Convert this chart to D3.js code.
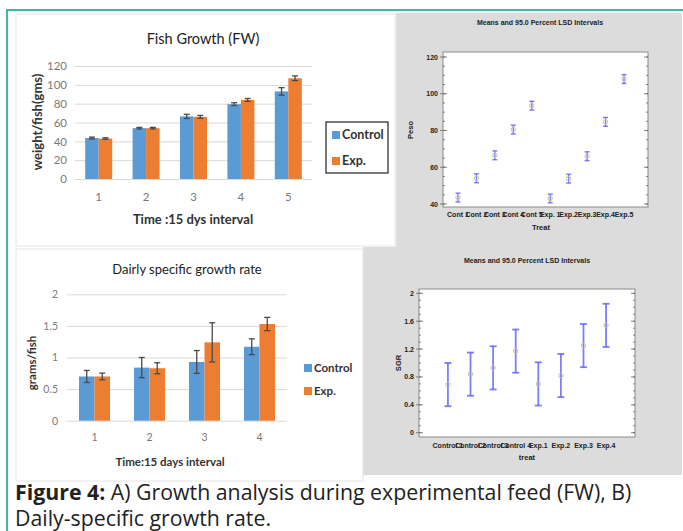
<!DOCTYPE html>
<html>
<head>
<meta charset="utf-8">
<title>Figure 4 - Fish growth</title>
<style>
    body{ margin:0; background:#fff; }
    svg{ display:block; }
    .xl text{ font-family: Lato, sans-serif; }
    .sg text{ font-family: "Liberation Sans", Arial, sans-serif; font-weight:bold; fill:#222; }
    .domain{ display:none; }
</style>
<script src="https://cdn.jsdelivr.net/npm/d3@7"></script>
</head>
<body>
<svg id="fig" width="683" height="531"></svg>
<script type="text/javascript">
// ---- data ----
const fwIntervals = ["1","2","3","4","5"];
const fwControl = [43.5, 54, 66.5, 79.5, 93];
const fwControlErr = [1, 0.8, 2.2, 1.5, 4];
const fwExp = [43, 54, 66, 84, 107];
const fwExpErr = [0.8, 0.8, 1.5, 1.5, 2.5];
const fwTicks = [0, 20, 40, 60, 80, 100, 120];

const sgrIntervals = ["1","2","3","4"];
const sgrControl = [0.7, 0.84, 0.93, 1.17];
const sgrControlErr = [0.095, 0.16, 0.18, 0.125];
const sgrExp = [0.7, 0.83, 1.24, 1.53];
const sgrExpErr = [0.053, 0.087, 0.31, 0.105];
const sgrTicks = [0, 0.5, 1, 1.5, 2];

const pesoTreat = ["Cont 1","Cont 2","Cont 3","Cont 4","Cont 5","Exp. 1","Exp.2","Exp.3","Exp.4","Exp.5"];
const pesoMeans = [43.5, 54, 66.5, 80.5, 93.5, 43, 53.8, 66, 84.7, 108];
const pesoLsd = [2.4, 2.4, 2.4, 2.4, 2.4, 2.4, 2.4, 2.4, 2.4, 2.4];
const pesoTicks = [40, 60, 80, 100, 120];

const sgrTreat = ["Control 1","Control 2","Control 3","Control 4","Exp.1","Exp.2","Exp.3","Exp.4"];
const sgrMeans = [0.69, 0.84, 0.93, 1.17, 0.70, 0.82, 1.25, 1.54];
const sgrLsd = [0.31, 0.31, 0.31, 0.31, 0.31, 0.31, 0.31, 0.31];
const sgrLsdTicks = [0, 0.4, 0.8, 1.2, 1.6, 2];

const seriesNames = ["Control", "Exp."];
const seriesColors = ["#5b9bd5", "#ed7d31"];

const svg = d3.select("#fig");

// panels / frame
svg.append("rect").attr("x",396).attr("y",13).attr("width",286).attr("height",234).attr("fill","#dcdcdc");
svg.append("rect").attr("x",363).attr("y",247).attr("width",319).attr("height",228).attr("fill","#dcdcdc");
svg.append("rect").attr("x",16).attr("y",14).attr("width",379).attr("height",232)
    .attr("fill","#fff").attr("stroke","#e4e4e4");
svg.append("rect").attr("x",16).attr("y",249).attr("width",347).attr("height",232)
    .attr("fill","#fff").attr("stroke","#e4e4e4");
svg.append("path").attr("d","M7,531V10H683").attr("fill","none")
    .attr("stroke","#3dbaa6").attr("stroke-width",2);

// ******************************
// Excel style grouped bar chart with error bars
function barChart(o){
    const g = svg.append("g").attr("class","xl");
    const x = d3.scaleBand().domain(o.cats).range(o.xr).paddingInner(o.pad).paddingOuter(o.pad/2);
    const x1 = d3.scaleBand().domain(seriesNames).range([0, x.bandwidth()]);
    const y = d3.scaleLinear().domain(o.yd).range(o.yr);

    const ax = g.append("g").attr("transform",`translate(${o.xr[0]},0)`)
        .call(d3.axisLeft(y).tickValues(o.ticks).tickFormat(d=>d)
            .tickSize(-(o.xr[1]-o.xr[0])).tickPadding(o.tickPad));
    ax.selectAll("line").attr("stroke","#d9d9d9");
    ax.selectAll("text").attr("font-size",o.tickFs).attr("fill","#7a7a7a").attr("font-family","Lato");

    const rows = o.cats.map((c,i)=>({c, v:[o.ctrl[i],o.exp[i]], e:[o.ctrlErr[i],o.expErr[i]]}));
    const grp = g.selectAll(".grp").data(rows).enter().append("g")
        .attr("transform",d=>`translate(${x(d.c)},0)`);
    seriesNames.forEach((s,k)=>{
        grp.append("rect")
            .attr("x",x1(s)).attr("width",x1.bandwidth())
            .attr("y",d=>y(d.v[k])).attr("height",d=>y(0)-y(d.v[k]))
            .attr("fill",seriesColors[k]);
        const cx = x1(s)+x1.bandwidth()/2;
        const eb = grp.append("g").attr("stroke","#4a4a4a").attr("stroke-width",1.3);
        eb.append("line").attr("x1",cx).attr("x2",cx)
            .attr("y1",d=>y(d.v[k]+d.e[k])).attr("y2",d=>y(d.v[k]-d.e[k]));
        eb.append("line").attr("x1",cx-3).attr("x2",cx+3)
            .attr("y1",d=>y(d.v[k]+d.e[k])).attr("y2",d=>y(d.v[k]+d.e[k]));
        eb.append("line").attr("x1",cx-3).attr("x2",cx+3)
            .attr("y1",d=>y(d.v[k]-d.e[k])).attr("y2",d=>y(d.v[k]-d.e[k]));
    });

    g.selectAll(".cat").data(o.cats).enter().append("text")
        .attr("x",d=>x(d)+x.bandwidth()/2).attr("y",o.catY)
        .attr("text-anchor","middle").attr("font-size",o.tickFs).attr("fill","#7a7a7a").text(d=>d);

    g.append("text").attr("x",o.title[0]).attr("y",o.title[1]).attr("text-anchor","middle")
        .attr("font-size",o.titleFs).attr("fill","#222").text(o.title[2]);
    g.append("text").attr("x",o.xt[0]).attr("y",o.xt[1]).attr("text-anchor","middle")
        .attr("font-size",o.axFs).attr("font-weight","bold").attr("fill","#333").text(o.xt[2]);
    g.append("text").attr("transform",`translate(${o.yt[0]},${o.yt[1]}) rotate(-90)`)
        .attr("text-anchor","middle").attr("font-size",o.axFs).attr("font-weight","bold")
        .attr("fill","#333").text(o.yt[2]);

    // legend
    if(o.legBox){
        g.append("rect").attr("x",o.legBox[0]).attr("y",o.legBox[1]).attr("width",o.legBox[2])
            .attr("height",o.legBox[3]).attr("fill","#fff").attr("stroke","#222").attr("stroke-width",1.2);
    }
    seriesNames.forEach((s,k)=>{
        const ly = o.leg[1] + k*o.leg[2];
        g.append("rect").attr("x",o.leg[0]).attr("y",ly-4).attr("width",8).attr("height",8)
            .attr("fill",seriesColors[k]);
        g.append("text").attr("x",o.leg[0]+10).attr("y",ly+4).attr("font-size",o.legFs)
            .attr("font-weight","bold").attr("fill","#333").text(s);
    });
}

barChart({cats:fwIntervals, ctrl:fwControl, ctrlErr:fwControlErr, exp:fwExp, expErr:fwExpErr,
    xr:[75,312], pad:0.43, yd:[0,120], yr:[179,66], ticks:fwTicks, tickPad:8, tickFs:11.5,
    catY:201, title:[203,44,"Fish Growth (FW)"], titleFs:14.5,
    xt:[193,224,"Time :15 dys interval"], yt:[42,122,"weight/fish(gms)"], axFs:13,
    legBox:[326,122,62,51], leg:[332,135,26], legFs:12.5});

barChart({cats:sgrIntervals, ctrl:sgrControl, ctrlErr:sgrControlErr, exp:sgrExp, expErr:sgrExpErr,
    xr:[67,287], pad:0.436, yd:[0,2], yr:[420.7,294.3], ticks:sgrTicks, tickPad:9, tickFs:10.5,
    catY:441, title:[187,274,"Dairly specific growth rate"], titleFs:13,
    xt:[170,466,"Time:15 days interval"], yt:[36,363,"grams/fish"], axFs:11.5,
    legBox:null, leg:[304,368,23], legFs:11.5});

// ******************************
// Statgraphics style means plot with LSD intervals
function lsdPlot(o){
    const g = svg.append("g").attr("class","sg");
    const x = d3.scaleLinear().domain(o.xd).range([o.box[0], o.box[2]]);
    const y = d3.scaleLinear().domain(o.yd).range(o.yr);

    g.append("rect").attr("x",o.box[0]).attr("y",o.box[1]).attr("width",o.box[2]-o.box[0])
        .attr("height",o.box[3]-o.box[1]).attr("fill","#fff").attr("stroke","#8a8a8a");

    const minor = d3.range(o.ticks[0], o.ticks[o.ticks.length-1]+o.minor/2, o.minor)
        .filter(v=>y(v)>=o.box[1] && y(v)<=o.box[3]);
    const tk = g.append("g").attr("stroke","#666").attr("stroke-width",0.8);
    tk.selectAll(".mn").data(minor).enter().append("line")
        .attr("x1",o.box[2]-2).attr("x2",o.box[2]).attr("y1",d=>y(d)).attr("y2",d=>y(d));
    tk.selectAll(".mnl").data(minor).enter().append("line")
        .attr("x1",o.box[0]).attr("x2",o.box[0]+2).attr("y1",d=>y(d)).attr("y2",d=>y(d));
    tk.selectAll(".mj").data(o.ticks).enter().append("line")
        .attr("x1",o.box[2]-4).attr("x2",o.box[2]).attr("y1",d=>y(d)).attr("y2",d=>y(d));
    tk.selectAll(".mjl").data(o.ticks).enter().append("line")
        .attr("x1",o.box[0]-3).attr("x2",o.box[0]+4).attr("y1",d=>y(d)).attr("y2",d=>y(d));

    g.selectAll(".yl").data(o.ticks).enter().append("text")
        .attr("x",o.box[0]-5).attr("y",d=>y(d)+2.5).attr("text-anchor","end")
        .attr("font-size",7).text(d=>d);

    const pts = o.treat.map((t,i)=>({t, i, m:o.means[i], h:o.lsd[i]}));
    const eb = g.append("g").attr("stroke","#5c5cff").attr("stroke-opacity",0.8).attr("stroke-width",o.ebW);
    eb.selectAll(".v").data(pts).enter().append("line")
        .attr("x1",d=>x(d.i)).attr("x2",d=>x(d.i)).attr("y1",d=>y(d.m+d.h)).attr("y2",d=>y(d.m-d.h));
    eb.selectAll(".t").data(pts).enter().append("line")
        .attr("x1",d=>x(d.i)-o.cap).attr("x2",d=>x(d.i)+o.cap).attr("y1",d=>y(d.m+d.h)).attr("y2",d=>y(d.m+d.h));
    eb.selectAll(".b").data(pts).enter().append("line")
        .attr("x1",d=>x(d.i)-o.cap).attr("x2",d=>x(d.i)+o.cap).attr("y1",d=>y(d.m-d.h)).attr("y2",d=>y(d.m-d.h));
    g.selectAll(".pt").data(pts).enter().append("circle")
        .attr("cx",d=>x(d.i)).attr("cy",d=>y(d.m)).attr("r",2.2)
        .attr("fill","none").attr("stroke","#c4c49a").attr("stroke-width",1);

    g.selectAll(".xl").data(pts).enter().append("text")
        .attr("x",d=>x(d.i)).attr("y",o.labY).attr("text-anchor","middle")
        .attr("font-size",7).text(d=>d.t);

    g.append("text").attr("x",o.title[0]).attr("y",o.title[1]).attr("text-anchor","middle")
        .attr("font-size",7).text(o.title[2]);
    g.append("text").attr("x",o.xt[0]).attr("y",o.xt[1]).attr("text-anchor","middle")
        .attr("font-size",7.5).text(o.xt[2]);
    g.append("text").attr("transform",`translate(${o.yt[0]},${o.yt[1]}) rotate(-90)`)
        .attr("text-anchor","middle").attr("font-size",7.5).text(o.yt[2]);
}

lsdPlot({treat:pesoTreat, means:pesoMeans, lsd:pesoLsd, ticks:pesoTicks, minor:5,
    box:[443,52,648,207], xd:[-0.81,10.3], yd:[40,120], yr:[204,57], ebW:1.4, cap:2.5,
    labY:217, title:[540,25,"Means and 95.0 Percent LSD Intervals"],
    xt:[541,230,"Treat"], yt:[413,130,"Peso"]});

lsdPlot({treat:sgrTreat, means:sgrMeans, lsd:sgrLsd, ticks:sgrLsdTicks, minor:0.1,
    box:[419,289,635,437], xd:[-1.28,8.28], yd:[0,2], yr:[432.7,293.3], ebW:1.8, cap:3.5,
    labY:448, title:[527,263,"Means and 95.0 Percent LSD Intervals"],
    xt:[527,460,"treat"], yt:[401,363,"SGR"]});

// caption
const cap = svg.append("text").attr("x",15).attr("y",500)
    .attr("font-family","'Open Sans', sans-serif").attr("font-size",21.3).attr("fill","#222");
cap.append("tspan").attr("font-weight","bold").text("Figure 4:");
cap.append("tspan").text(" A) Growth analysis during experimental feed (FW), B)");
svg.append("text").attr("x",15).attr("y",526)
    .attr("font-family","'Open Sans', sans-serif").attr("font-size",21.3).attr("fill","#222")
    .text("Daily-specific growth rate.");
</script>
</body>
</html>
